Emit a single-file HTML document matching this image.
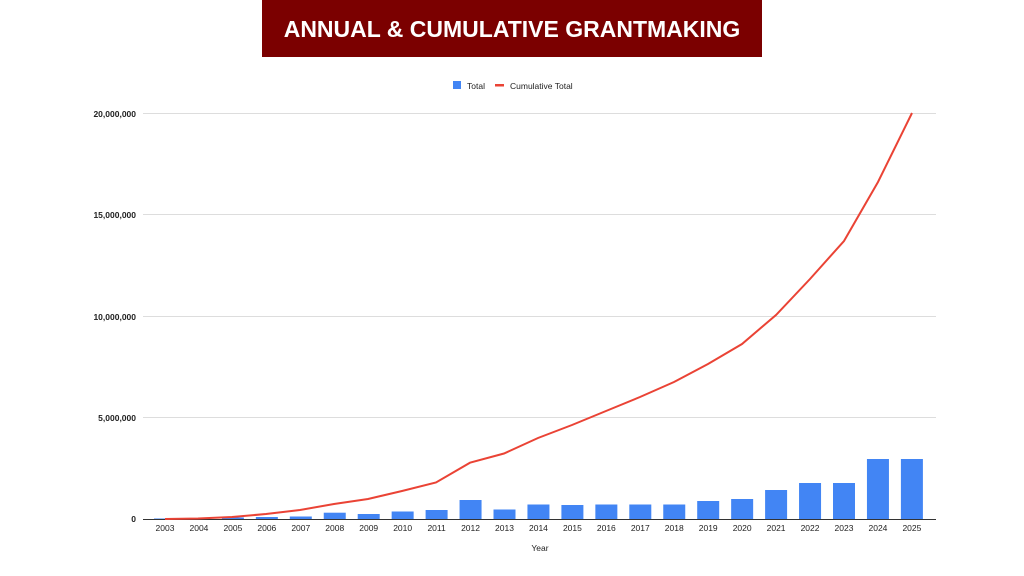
<!DOCTYPE html>
<html><head><meta charset="utf-8"><style>
html,body{margin:0;padding:0;background:#fff;width:1024px;height:576px;overflow:hidden}
</style></head><body>
<svg width="1024" height="576" xmlns="http://www.w3.org/2000/svg" font-family="Liberation Sans, sans-serif">
<rect x="262" y="0" width="500" height="57" fill="#7b0000"/>
<text x="512" y="37" text-anchor="middle" fill="#fff" font-size="23" font-weight="bold">ANNUAL &amp; CUMULATIVE GRANTMAKING</text>
<rect x="453" y="81" width="8" height="8" fill="#4285f4"/>
<text x="467" y="89" font-size="8.5" fill="#222">Total</text>
<rect x="495" y="84" width="9" height="2.5" fill="#ea4335"/>
<text x="510" y="89" font-size="8.5" fill="#222">Cumulative Total</text>
<g stroke="#ddd" stroke-width="1">
<line x1="143" y1="113.5" x2="936" y2="113.5"/>
<line x1="143" y1="214.5" x2="936" y2="214.5"/>
<line x1="143" y1="316.5" x2="936" y2="316.5"/>
<line x1="143" y1="417.5" x2="936" y2="417.5"/>
</g>
<g font-size="8.5" font-weight="bold" fill="#222" text-anchor="end">
<text x="136" y="117">20,000,000</text>
<text x="136" y="218">15,000,000</text>
<text x="136" y="320">10,000,000</text>
<text x="136" y="421">5,000,000</text>
<text x="136" y="522">0</text>
</g>
<g id="bars" fill="#4285f4"></g>
<line x1="143" y1="519.5" x2="936" y2="519.5" stroke="#333" stroke-width="1"/>
<polyline fill="none" stroke="#ea4335" stroke-width="2" points="165,519 198,518.5 232,517 266,514 300,510 334,504 368,499 402,491 436,482.5 470,462.7 504,453.5 538,438 572,425 606,411 640,397 674,382 708,364 742,344 776,315 810,279 844,241 878,182 912,113"/>
<g id="xl" font-size="8.5" fill="#222" text-anchor="middle"></g>
<text x="540" y="551" font-size="8.5" fill="#222" text-anchor="middle">Year</text>
<script>
var tops=[518.5,518,517.5,517,516.5,512.7,514,511.5,510,500,509.5,504.5,505,504.5,504.5,504.5,501,499,490,483,483,459,459];
var b=document.getElementById('bars'),xl=document.getElementById('xl'),ns='http://www.w3.org/2000/svg';
for(var i=0;i<23;i++){var x=165+i*33.95;
var r=document.createElementNS(ns,'rect');r.setAttribute('x',x-11);r.setAttribute('y',tops[i]);r.setAttribute('width',22);r.setAttribute('height',519.5-tops[i]);b.appendChild(r);
var t=document.createElementNS(ns,'text');t.setAttribute('x',x);t.setAttribute('y',531);t.textContent=2003+i;xl.appendChild(t);}
</script>
</svg>
</body></html>
